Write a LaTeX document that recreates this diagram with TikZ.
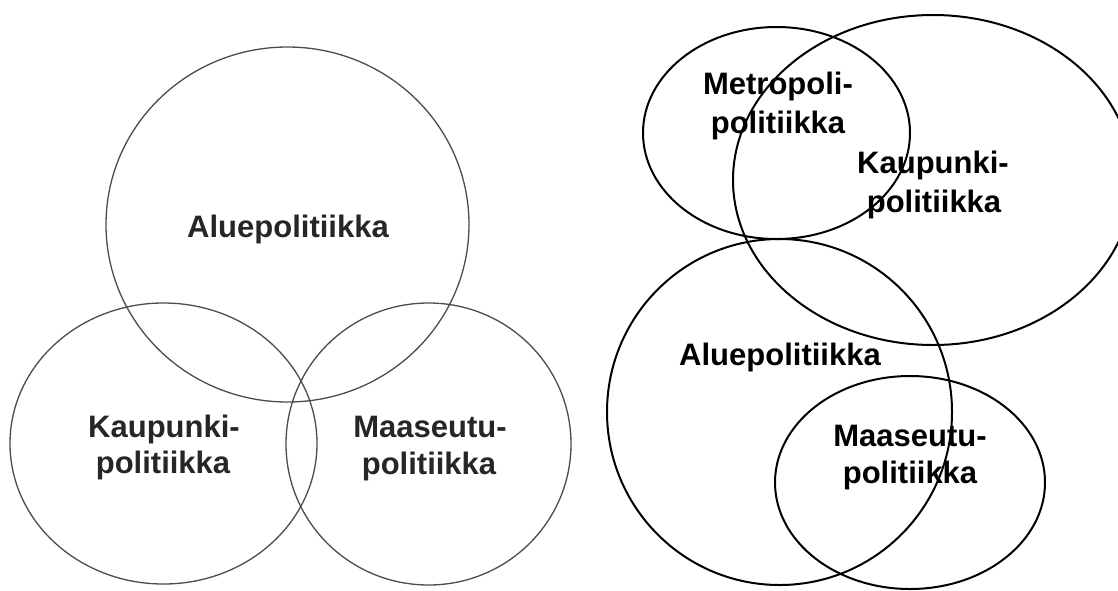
\documentclass[tikz,border=0pt]{standalone}
\usepackage{fontspec}
\setmainfont{Liberation Sans}
\tikzset{
  leftring/.style={draw=black!70, line width=1.3pt},
  rightring/.style={draw=black, line width=2pt},
  lefttxt/.style={anchor=base, inner sep=0pt, text=black!85, font=\fontsize{31}{37}\selectfont\bfseries},
  righttxt/.style={anchor=base, inner sep=0pt, text=black, font=\fontsize{31}{37}\selectfont\bfseries}
}
\begin{document}
\begin{tikzpicture}[x=1pt,y=-1pt]
\useasboundingbox (0,0) rectangle (1118,590);
\fill[white] (0,0) rectangle (1118,590);
% left diagram
\draw[leftring] (287.5,224.5) ellipse [x radius=181.5pt, y radius=177.5pt];
\draw[leftring] (163.5,443.5) ellipse [x radius=153.5pt, y radius=140.5pt];
\draw[leftring] (428.5,444) ellipse [x radius=142.5pt, y radius=141pt];
\node[lefttxt] (la) at (288,237) {Aluepolitiikka};
\node[lefttxt] (lk1) at (164,437) {Kaupunki-};
\node[lefttxt] (lk2) at (163,473) {politiikka};
\node[lefttxt] (lm1) at (430,437) {Maaseutu-};
\node[lefttxt] (lm2) at (429,474) {politiikka};
% right diagram
\draw[rightring] (776.5,133) ellipse [x radius=133.5pt, y radius=106pt];
\draw[rightring] (933,180) ellipse [x radius=200pt, y radius=165pt];
\draw[rightring] (779.5,412) ellipse [x radius=172.5pt, y radius=173pt];
\draw[rightring] (910,482.5) ellipse [x radius=135pt, y radius=106.5pt];
\node[righttxt] (rmet1) at (778,94) {Metropoli-};
\node[righttxt] (rmet2) at (778,133) {politiikka};
\node[righttxt] (rk1) at (933,173) {Kaupunki-};
\node[righttxt] (rk2) at (934,212) {politiikka};
\node[righttxt] (ra) at (780,365) {Aluepolitiikka};
\node[righttxt] (rm1) at (910,446) {Maaseutu-};
\node[righttxt] (rm2) at (910,483) {politiikka};
\end{tikzpicture}
\end{document}
